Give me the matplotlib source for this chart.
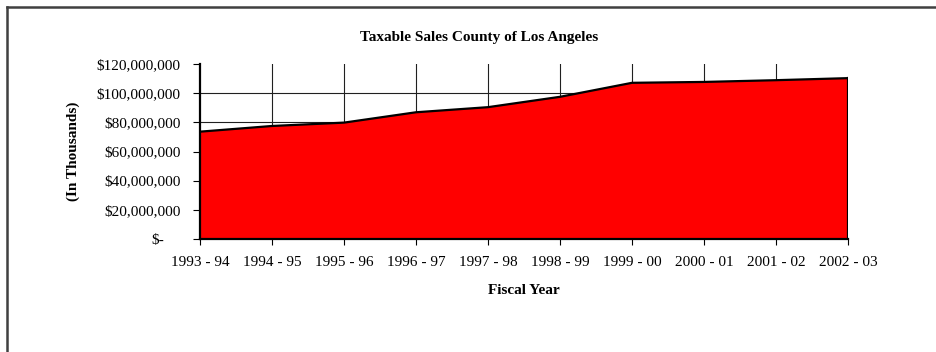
import matplotlib.pyplot as plt
from matplotlib.ticker import FuncFormatter
from matplotlib.lines import Line2D
import matplotlib.transforms as mtrans

# taxable sales, in thousands of dollars
years = ["1993 - 94", "1994 - 95", "1995 - 96", "1996 - 97", "1997 - 98",
         "1998 - 99", "1999 - 00", "2000 - 01", "2001 - 02", "2002 - 03"]
sales = [73600000, 77500000, 79800000, 86900000, 90400000,
         97500000, 107100000, 107700000, 108900000, 110300000]
yticks = [0, 20000000, 40000000, 60000000, 80000000, 100000000, 120000000]

plt.rcParams['font.family'] = ['Liberation Serif', 'DejaVu Serif']

W, H = 937, 352
fig = plt.figure(figsize=(W / 100, H / 100), dpi=100, facecolor='w')
ax = fig.add_axes([200 / W, 1 - 239 / H, 648 / W, 175 / H])

xs = list(range(len(years)))

# grid first so the area covers it
for y in yticks[1:-1]:
    ax.axhline(y, color='#202020', lw=0.8, zorder=1)
for x in xs[1:-1]:
    ax.axvline(x, color='#202020', lw=0.8, zorder=1)

ax.fill_between(xs, 0, sales, facecolor='#ff0000', edgecolor='none', zorder=2)
ax.plot(xs, sales, color='black', lw=1.6, zorder=3, solid_joinstyle='round')
ax.plot([xs[-1], xs[-1]], [0, sales[-1]], color='black', lw=1.6, zorder=3)

ax.set_xlim(0, len(years) - 1)
ax.set_ylim(0, 120000000)
ax.set_xticks(xs)
ax.set_xticklabels(years)
ax.set_yticks(yticks)


def money(v, pos):
    if v == 0:
        return "$-"
    return "${:,.0f}".format(v)


ax.yaxis.set_major_formatter(FuncFormatter(money))

for s in ['top', 'right']:
    ax.spines[s].set_visible(False)
for s in ['left', 'bottom']:
    ax.spines[s].set_linewidth(1.6)
    ax.spines[s].set_zorder(4)

ax.tick_params(axis='y', direction='out', length=5, width=0.8, pad=9, labelsize=11)
ax.tick_params(axis='x', direction='out', length=4, width=0.8, pad=8, labelsize=11)

# accounting style: the zero label sits further left
fig.canvas.draw()
zero_lbl = ax.get_yticklabels()[0]
zero_lbl.set_transform(zero_lbl.get_transform() +
                       mtrans.ScaledTranslation(-16 / 100, 0, fig.dpi_scale_trans))

fig.text(479 / W, 1 - 37 / H, "Taxable Sales County of Los Angeles",
         ha='center', va='center', fontsize=11, fontweight='bold')
fig.text(524 / W, 1 - 291 / H, "Fiscal Year",
         ha='center', va='center', fontsize=11, fontweight='bold')
fig.text(73 / W, 1 - 151 / H, "(In Thousands)", rotation=90,
         ha='center', va='center', fontsize=11, fontweight='bold')

# chart frame (runs off the right and bottom edges)
fig.add_artist(Line2D([7 / W, 1.01], [1 - 7 / H, 1 - 7 / H], color='#404040', lw=1.8))
fig.add_artist(Line2D([7 / W, 7 / W], [1 - 7 / H, -0.01], color='#404040', lw=1.8))

fig.savefig("out.png", dpi=100, facecolor='w')
